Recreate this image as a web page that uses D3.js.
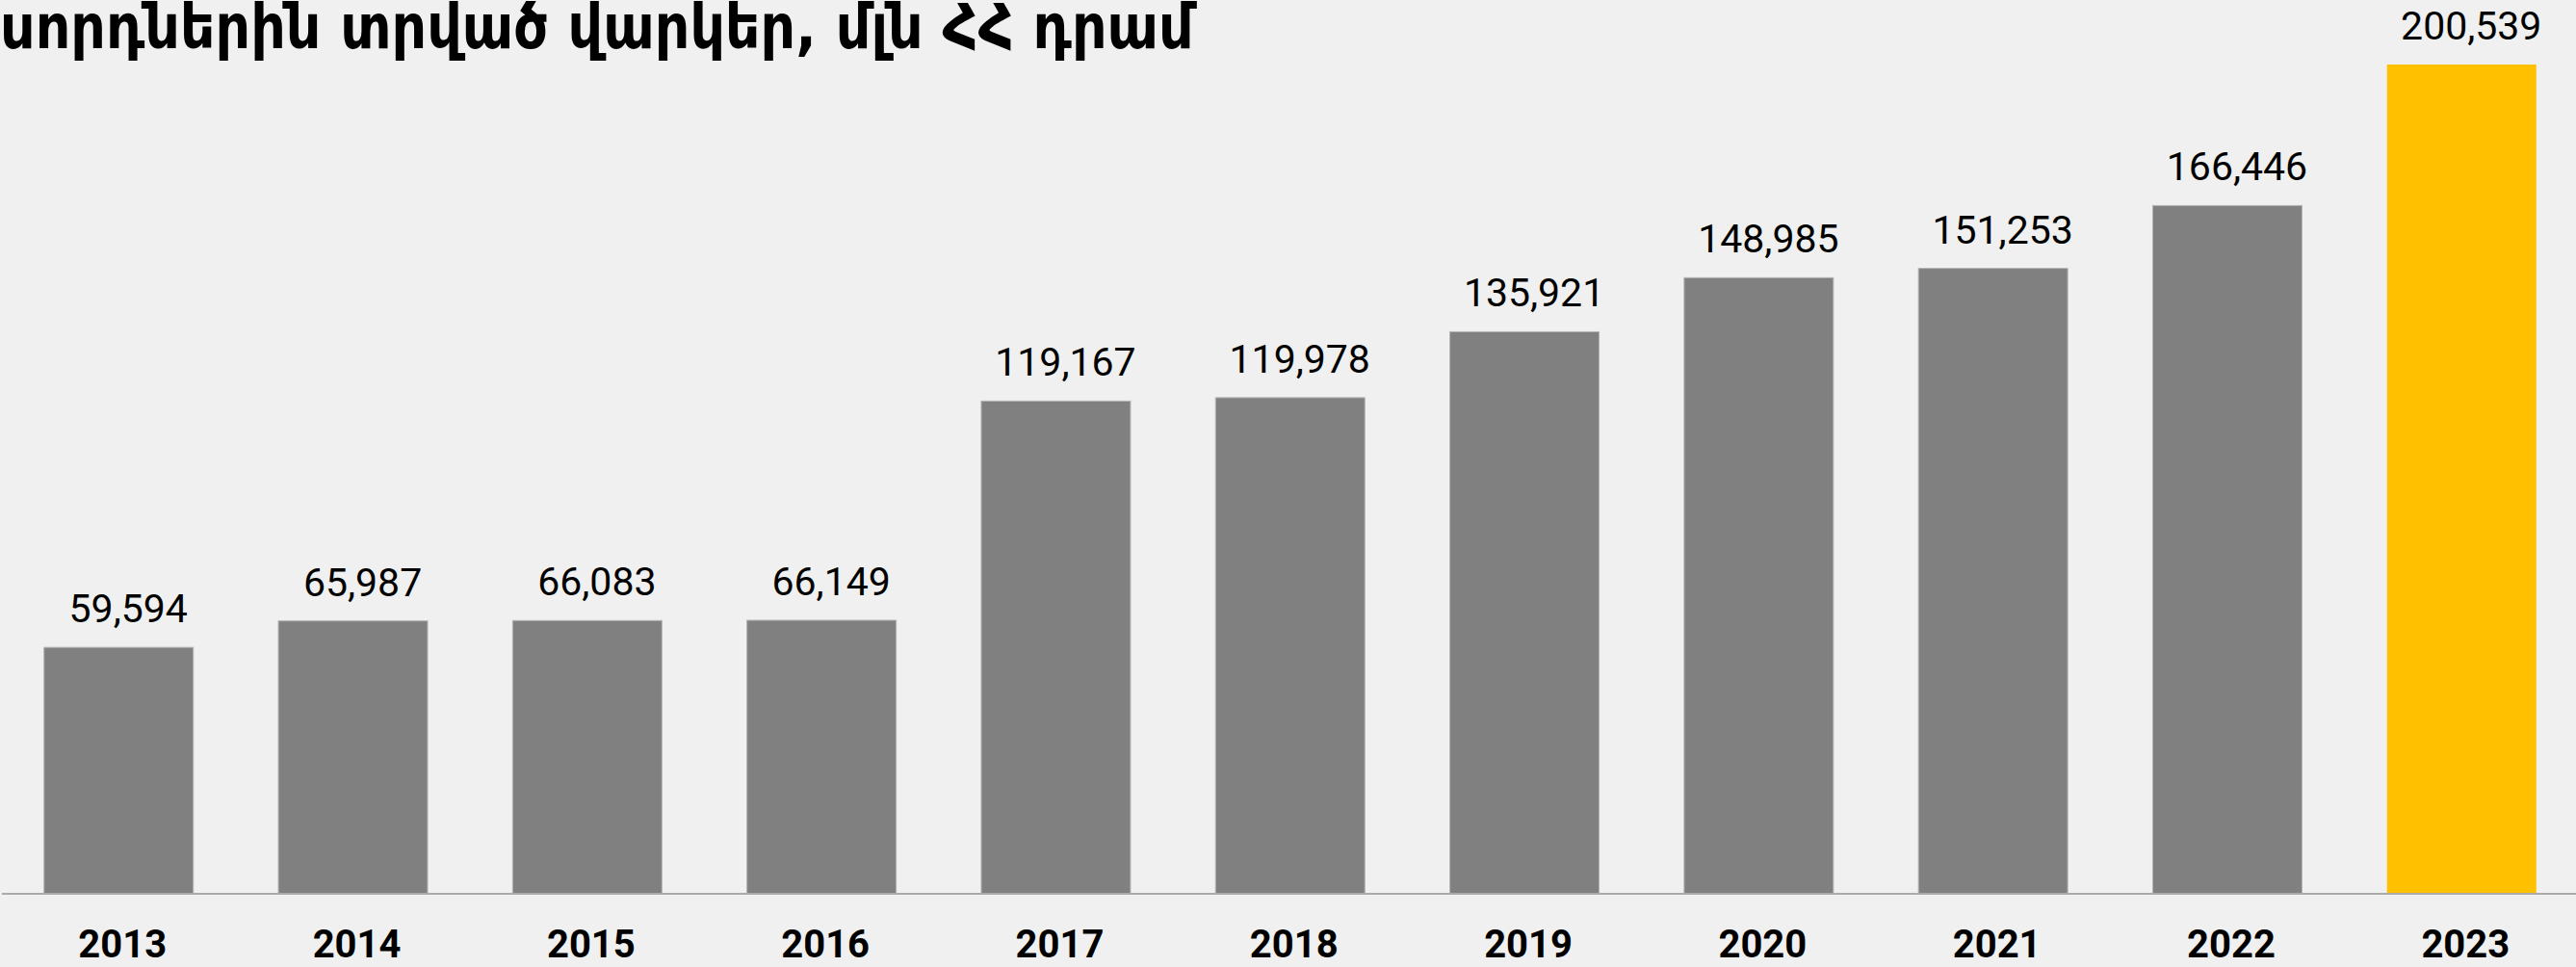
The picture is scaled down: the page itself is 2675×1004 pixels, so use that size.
<!DOCTYPE html>
<html>
<head>
<meta charset="utf-8">
<script src="https://cdn.jsdelivr.net/npm/d3@7"></script>
<style>
  html, body { margin: 0; padding: 0; background: #eff0ef; }
  svg { display: block; }
</style>
</head>
<body>
<svg id="chart" width="2675" height="1004"></svg>
<script>
const titleText = "սորդներին տրված վարկեր, մլն ՀՀ դրամ";
const years = ["2013","2014","2015","2016","2017","2018","2019","2020","2021","2022","2023"];
const values = [59594, 65987, 66083, 66149, 119167, 119978, 135921, 148985, 151253, 166446, 200539];
const highlightYear = "2023";

const W = 2675, H = 1004;
const svg = d3.select("#chart");
svg.append("rect").attr("width", W).attr("height", H).attr("fill", "#eff0ef");

const baseY = 928;
const x = d3.scaleBand().domain(years).range([0, 2679.5]).paddingInner(0.363).paddingOuter(0.188);
const y = d3.scaleLinear().domain([0, d3.max(values)]).range([baseY, 67]);

const data = years.map((yr, i) => ({ year: yr, value: values[i] }));

svg.selectAll("rect.bar").data(data).enter().append("rect")
  .attr("class", "bar")
  .attr("x", d => x(d.year))
  .attr("y", d => y(d.value))
  .attr("width", x.bandwidth())
  .attr("height", d => baseY - y(d.value))
  .attr("fill", d => d.year === highlightYear ? "#ffc000" : "#808080")
  .attr("stroke", d => d.year === highlightYear ? "none" : "#b4b4b4")
  .attr("stroke-width", 1);

// baseline axis
const axis = d3.axisBottom(x).tickSize(0).tickPadding(0);
const gx = svg.append("g").attr("transform", `translate(0,${baseY})`).call(axis);
gx.select(".domain").remove();
svg.append("line").attr("x1", 2).attr("x2", W).attr("y1", baseY).attr("y2", baseY)
  .attr("stroke", "#ababab").attr("stroke-width", 2);
gx.selectAll(".tick text")
  .attr("y", 66)
  .attr("dy", 0)
  .attr("dx", 4)
  .attr("fill", "#000")
  .style("font-family", "Roboto, sans-serif")
  .style("font-weight", "bold")
  .style("font-size", "40px");

const fmt = d3.format(",");
svg.selectAll("text.val").data(data).enter().append("text")
  .attr("class", "val")
  .attr("x", d => x(d.year) + x.bandwidth() / 2 + 10)
  .attr("y", d => y(d.value) - 26)
  .attr("text-anchor", "middle")
  .attr("fill", "#000")
  .style("font-family", "Roboto, sans-serif")
  .style("font-size", "41px")
  .text(d => fmt(d.value));

const title = svg.append("text")
  .attr("x", 0)
  .attr("y", 0)
  .attr("fill", "#000")
  .style("font-family", "'DejaVu Sans Condensed', 'DejaVu Sans', sans-serif")
  .style("font-weight", "bold")
  .style("font-size", "64px")
  .text(titleText);
const tl = title.node().getComputedTextLength();
title.attr("transform", `translate(0,50) scale(${1240 / tl},1)`);
</script>
</body>
</html>
